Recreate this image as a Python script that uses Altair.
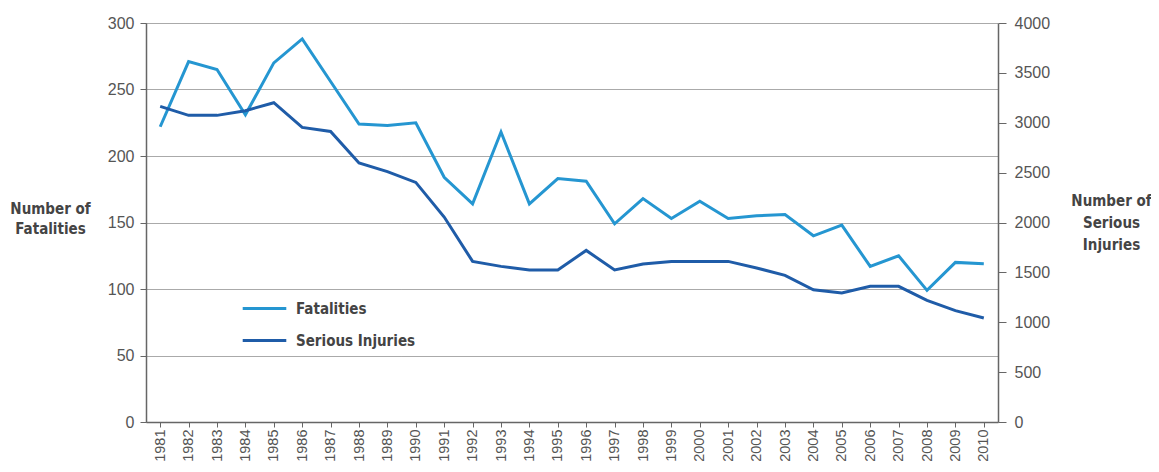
import altair as alt
import pandas as pd

years = [str(y) for y in range(1981, 2011)]
fatalities = [222, 271, 265, 231, 270, 288, 256, 224, 223, 225, 184, 164, 218, 164, 183, 181,
              149, 168, 153, 166, 153, 155, 156, 140, 148, 117, 125, 99, 120, 119]
injuries = [3164, 3074, 3074, 3121, 3201, 2953, 2913, 2596, 2510, 2402, 2055, 1610, 1560, 1524, 1524, 1720,
            1524, 1584, 1610, 1610, 1610, 1544, 1470, 1326, 1293, 1360, 1360, 1219, 1116, 1043]

series_names = ["Fatalities", "Serious Injuries"]
series_colors = ["#2596d1", "#1f5ca8"]

df = pd.DataFrame({"Year": years, "Fatalities": fatalities, "Injuries": injuries})

TICK_FONT = "Liberation Sans"
TITLE_FONT = "Liberation Sans Narrow, DejaVu Sans Condensed, sans-serif"

xenc = alt.X("Year:O", sort=years,
             scale=alt.Scale(paddingInner=0, paddingOuter=0),
             axis=alt.Axis(title=None, labelAngle=270, bandPosition=0, labelFontSize=14.5,
                           labelFont=TICK_FONT, labelColor="#555", labelPadding=2,
                           tickColor="#666", tickSize=5, domainColor="#666", domainWidth=1.5,
                           grid=False))

color = alt.Color("series:N",
                  scale=alt.Scale(domain=series_names, range=series_colors),
                  legend=alt.Legend(title=None, orient="none", legendX=95, legendY=262,
                                    symbolType="stroke", symbolSize=1900, symbolStrokeWidth=3,
                                    labelFont=TITLE_FONT, labelFontWeight="bold", labelFontSize=15,
                                    labelColor="#444", rowPadding=-14, labelOffset=8))

left = alt.Chart(df).transform_calculate(series="'Fatalities'").mark_line(strokeWidth=3).encode(
    x=xenc,
    y=alt.Y("Fatalities:Q",
            scale=alt.Scale(domain=[0, 300], nice=False),
            axis=alt.Axis(values=[0, 50, 100, 150, 200, 250, 300], title=["Number of", "Fatalities"],
                          titleAngle=0, titleAlign="center", titleBaseline="middle",
                          titleX=-96, titleY=185, titleFont=TITLE_FONT, titleFontSize=15,
                          titleFontWeight="bold", titleColor="#444", titleLineHeight=20,
                          labelFont=TICK_FONT, labelFontSize=16, labelColor="#555", labelPadding=6,
                          tickColor="#666", tickSize=6, domainColor="#666", domainWidth=1.5,
                          grid=True, gridDash=[1, 1], gridColor="#555", gridWidth=1)),
    color=color,
)

right = alt.Chart(df).transform_calculate(series="'Serious Injuries'").mark_line(strokeWidth=3).encode(
    x=xenc,
    y=alt.Y("Injuries:Q",
            scale=alt.Scale(domain=[0, 4000], nice=False),
            axis=alt.Axis(orient="right", values=list(range(0, 4001, 500)), format="d",
                          title=["Number of", "Serious", "Injuries"],
                          titleAngle=0, titleAlign="center", titleBaseline="middle",
                          titleX=113, titleY=177, titleFont=TITLE_FONT, titleFontSize=15,
                          titleFontWeight="bold", titleColor="#444", titleLineHeight=22,
                          labelFont=TICK_FONT, labelFontSize=16, labelColor="#555", labelPadding=8,
                          tickColor="#666", tickSize=8, domainColor="#666", domainWidth=1.5,
                          grid=False)),
    color=color,
)

chart = alt.layer(left, right).resolve_scale(y="independent").properties(
    width=852, height=399,
    autosize=alt.AutoSizeParams(type="none"),
    padding={"left": 138, "top": 15, "right": 153, "bottom": 42},
).configure_view(stroke=None)

chart.save("out.html", embed_options={"renderer": "svg", "actions": False})
